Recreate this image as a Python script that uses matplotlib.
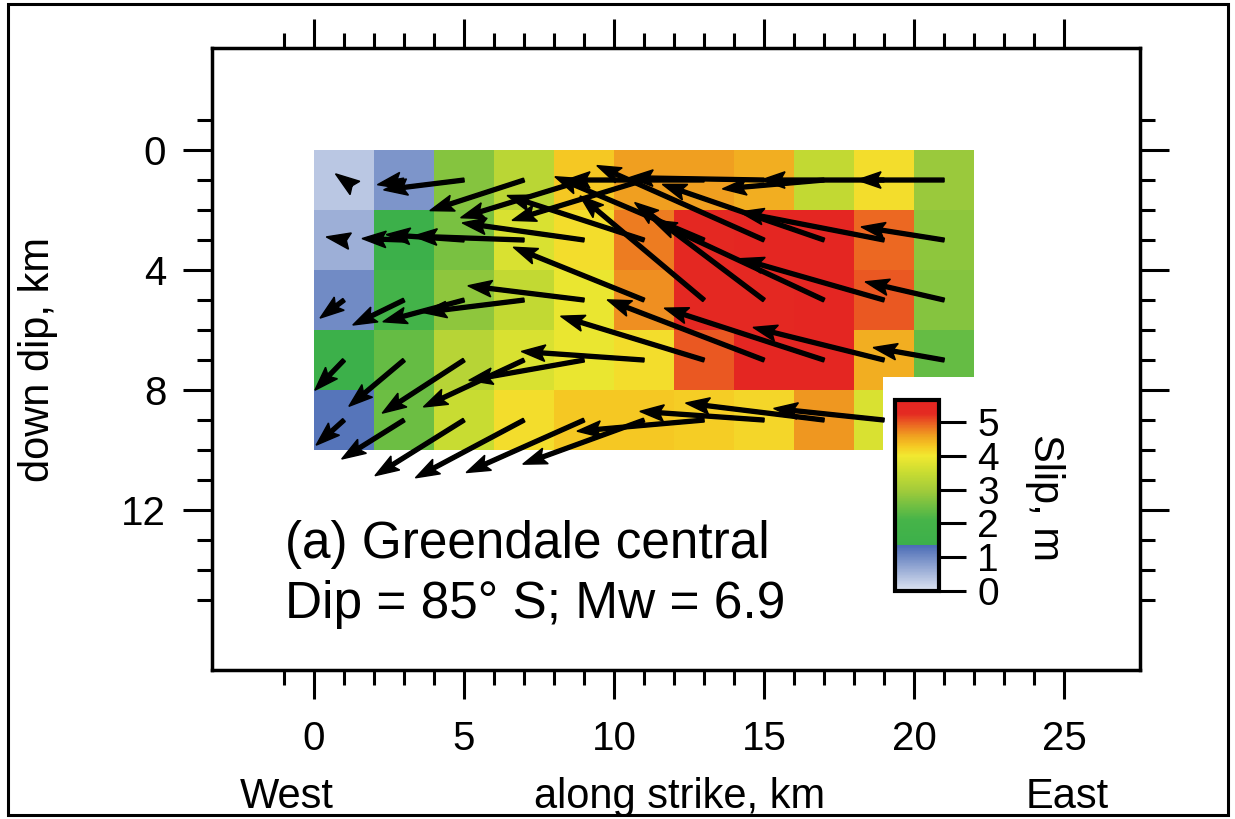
import numpy as np
import matplotlib
matplotlib.use("Agg")
import matplotlib.pyplot as plt
from matplotlib.colors import LinearSegmentedColormap, Normalize
from matplotlib.patches import Rectangle

plt.rcParams["font.family"] = ["Liberation Sans", "DejaVu Sans"]

# fault patches are 2 km x 2 km
strike_edges = np.arange(0, 23, 2)
dip_edges = np.arange(0, 11, 2)

# slip on each patch (m); rows go down dip, columns go west -> east
slip = np.array([
    [0.35, 0.9, 2.7, 3.3, 4.3, 4.6, 4.6, 4.5, 3.4, 4.1, 2.9],
    [0.6, 1.4, 2.6, 3.7, 4.1, 4.8, 5.4, 6.1, 5.7, 4.9, 2.8],
    [1.0, 1.9, 2.8, 3.4, 3.9, 4.7, 5.4, 5.4, 6.3, 5.0, 2.7],
    [1.4, 2.4, 3.25, 3.7, 3.9, 4.1, 5.0, 5.6, 5.6, 4.5, 2.4],
    [1.25, 2.45, 3.5, 4.1, 4.3, 4.3, 4.25, 4.15, 4.65, 3.7, np.nan],
])

# slip direction, degrees counter-clockwise from east, up dip positive
rake = np.array([
    [144, 190, 187, 198, 197, 197, 180, 179, 185, 180, 180],
    [170, 178, 176, 178, 172, 162, 157, 156, 161, 169, 171],
    [217, 206, 195, 187, 173, 158, 140, 143, 155, 164, 167],
    [226, 220, 213, 205, 190, 176, 163, 159, 162, 166, 170],
    [222, 212, 212, 208, 204, 200, 185, 176, 173, 174, np.nan],
])

x_major = [0, 5, 10, 15, 20, 25]
x_minor = list(range(-1, 25))
y_major = [0, 4, 8, 12]
y_minor = list(range(-1, 16))
cbar_ticks = [0, 1, 2, 3, 4, 5]

# slip colour scale: pale to blue below ~1.35 m, then green -> yellow -> red
slip_max = 5.65
cmap_nodes = [
    (0.0, "#dfe5f2"), (1.35, "#4a6bb5"), (1.36, "#3cb04a"), (2.1, "#46b449"),
    (3.0, "#a4cc3a"), (3.5, "#c8dc32"), (4.0, "#f2e830"), (4.3, "#f5c823"),
    (4.6, "#f0a020"), (4.9, "#ec6c22"), (5.25, "#e42a22"), (slip_max, "#e42622"),
]
slip_cmap = LinearSegmentedColormap.from_list(
    "slip", [(v / slip_max, c) for v, c in cmap_nodes])
norm = Normalize(0, slip_max)

W, H = 1235, 819
fig = plt.figure(figsize=(W / 100, H / 100), dpi=100)
ax = fig.add_axes([212 / W, 1 - 670 / H, 928 / W, 622 / H])

mesh = ax.pcolormesh(strike_edges, dip_edges, np.ma.masked_invalid(slip),
                     cmap=slip_cmap, norm=norm, edgecolors="none", zorder=1)

# slip vectors: tail at patch centre, 1 km of arrow per metre of slip
head_w, head_l = 0.55, 0.8
xc = 0.5 * (strike_edges[:-1] + strike_edges[1:])
yc = 0.5 * (dip_edges[:-1] + dip_edges[1:])
for i, y0 in enumerate(yc):
    for j, x0 in enumerate(xc):
        s, r = slip[i, j], rake[i, j]
        if np.isnan(s) or np.isnan(r):
            continue
        u = s * np.cos(np.radians(r))
        v = -s * np.sin(np.radians(r))
        # vectors shorter than the head are drawn as a bare head
        shaft = 0.13 if s > head_l else 0.0
        ax.arrow(x0, y0, u, v, width=shaft, head_width=head_w,
                 head_length=head_l, overhang=0.15,
                 length_includes_head=True, color="black", zorder=3)

# blank area behind the colour bar
ax.add_patch(Rectangle((18.97, 7.57), 12, 12, facecolor="white",
                       edgecolor="none", zorder=2))

ax.set_xlim(-3.4, 27.53)
ax.set_ylim(17.33, -3.4)
ax.set_xticks(x_major)
ax.set_xticks(x_minor, minor=True)
ax.set_yticks(y_major)
ax.set_yticks(y_minor, minor=True)
ax.tick_params(which="both", direction="out", top=True, right=True,
               width=2.2, labelsize=29)
ax.tick_params(which="major", length=21)
ax.tick_params(which="minor", length=11)
ax.tick_params(axis="x", pad=15)
ax.tick_params(axis="y", pad=12)
for sp in ax.spines.values():
    sp.set_linewidth(2.5)

ax.set_ylabel("down dip, km", fontsize=30, va="center")
ax.yaxis.set_label_coords(-0.188, 0.5)
ax.set_xlabel("along strike, km", fontsize=30, va="baseline")
ax.xaxis.set_label_coords(0.504, -0.222)
ax.text(-0.9, -0.222, "West", transform=ax.get_xaxis_transform(),
        fontsize=30, ha="center", va="baseline")
ax.text(25.1, -0.222, "East", transform=ax.get_xaxis_transform(),
        fontsize=30, ha="center", va="baseline")

ax.text(-0.97, 13.6, "(a) Greendale central", fontsize=37, va="baseline")
ax.text(-0.97, 15.6, "Dip = 85\u00b0 S; Mw = 6.9", fontsize=37, va="baseline")

cax = fig.add_axes([895 / W, 1 - 591 / H, 44 / W, 191 / H])
cbar = fig.colorbar(mesh, cax=cax, ticks=cbar_ticks)
cbar.outline.set_linewidth(3)
cax.tick_params(length=19.5, width=2.2, labelsize=28, pad=8)
cbar.set_label("Slip, m", fontsize=30, rotation=270, va="center")
cax.yaxis.set_label_coords(3.41, 0.49)

# border round the whole figure
fig.patches.append(Rectangle((8 / W, 4 / H), 1220 / W, 811 / H,
                             transform=fig.transFigure, fill=False,
                             linewidth=2.2, edgecolor="black"))

fig.savefig("out.png", dpi=100)
